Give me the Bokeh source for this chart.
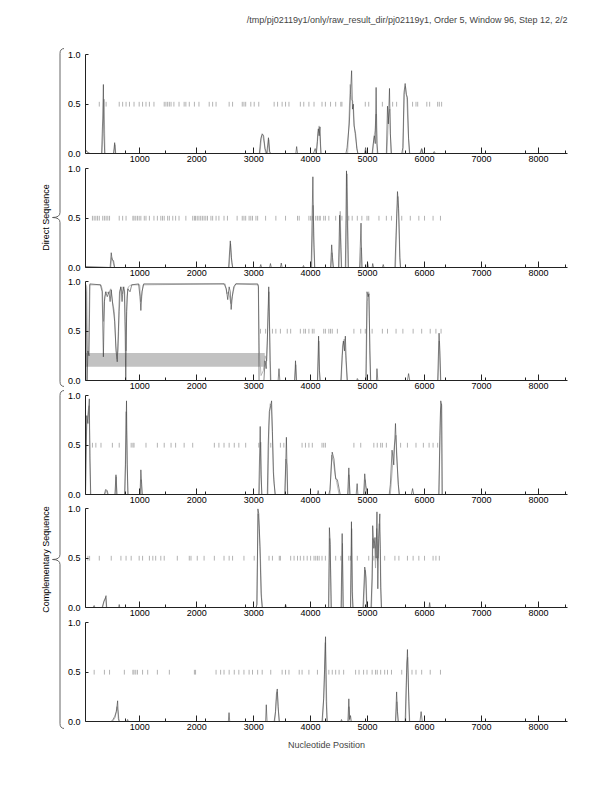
from bokeh.plotting import figure
from bokeh.models import Range1d, FixedTicker, NumeralTickFormatter
from bokeh.layouts import row, column
from bokeh.embed import file_html
from bokeh.resources import INLINE
from bokeh.core.properties import value

TITLE = "/tmp/pj02119y1/only/raw_result_dir/pj02119y1, Order 5, Window 96, Step 12, 2/2"
X_LABEL = "Nucleotide Position"
GROUP_LABELS = ["Direct Sequence", "Complementary Sequence"]
X_TICKS = [1000, 2000, 3000, 4000, 5000, 6000, 7000, 8000]
X_MINOR = [750, 1455, 2160, 2860, 3560, 4265, 4965, 5670, 6370, 7075, 7780, 8480]
Y_TICKS = [0.0, 0.5, 1.0]
X_START, X_END = 48, 8510
GENE_BOX = (48, 3195)          # predicted gene in panel 3
GENE_BOX_Y = (0.14, 0.28)

P1_BLACK = [(48,.04),(90,.01),(130,0),(330,0),(350,.35),(362,.70),(372,.2),(385,0),(540,0),(560,.11),(575,0),(3100,0),(3125,.15),(3150,.2),(3175,.18),(3200,.05),(3230,0),(3260,.16),(3280,.02),(3300,0),(3740,0),(3755,.07),(3770,0),(4050,0),(4080,.05),(4100,0),(4120,.12),(4135,.25),(4150,.18),(4165,.27),(4180,0),(4620,0),(4640,.06),(4680,.3),(4700,.6),(4720,.84),(4735,.45),(4750,.5),(4765,.28),(4790,.2),(4810,.05),(4830,0),(4950,0),(4965,.06),(4980,0),(5080,0),(5100,.1),(5120,.18),(5135,.1),(5150,.67),(5165,.1),(5180,0),(5330,0),(5350,.48),(5365,.3),(5385,.66),(5400,.2),(5420,0),(5600,0),(5620,.06),(5640,.62),(5660,.71),(5680,.6),(5700,.57),(5720,.15),(5740,0),(5920,0),(5950,.05),(5970,0),(6150,0),(6170,.02),(6190,0),(6310,0)]
P1_GRAY = [(48,.03),(100,0),(340,0),(360,.3),(375,.55),(390,0),(545,0),(565,.09),(580,0),(3110,0),(3140,.18),(3160,.19),(3185,.1),(3210,0),(3245,0),(3265,.14),(3285,0),(4100,0),(4125,.2),(4150,.28),(4170,.1),(4185,0),(4650,0),(4680,.45),(4695,.7),(4715,.55),(4740,.53),(4760,.3),(4780,.2),(4800,.12),(4830,0),(5090,0),(5110,.16),(5130,.23),(5150,.4),(5170,0),(5340,0),(5365,.34),(5390,.45),(5410,0),(5620,0),(5645,.6),(5665,.68),(5690,.55),(5715,.2),(5735,0),(5935,0),(5955,.04),(5975,0),(6310,0)]
P1_STOPS = [290,410,640,700,760,820,900,990,1050,1110,1170,1250,1430,1460,1490,1520,1550,1600,1690,1780,1810,1870,1960,2040,2220,2280,2340,2570,2630,2800,2830,2860,2950,3010,3090,3360,3420,3500,3560,3620,3820,3880,3970,4060,4200,4260,4350,4440,4530,4550,4960,5020,5260,5440,5510,5790,5850,5880,6040,6090,6230,6260,6300]

P2_BLACK = [(48,.01),(480,0),(500,.15),(515,.08),(540,.07),(560,0),(2560,0),(2590,.27),(2610,.1),(2630,0),(3110,0),(3125,.03),(3140,0),(3280,0),(3295,.04),(3310,0),(3470,0),(3485,.045),(3500,0),(3860,0),(3875,.02),(3890,0),(4010,0),(4040,.92),(4055,.3),(4070,0),(4350,0),(4370,.23),(4385,.1),(4400,0),(4490,0),(4510,.53),(4525,.3),(4540,0),(4610,0),(4630,.98),(4645,.5),(4660,0),(4860,0),(4885,.45),(4900,0),(4990,0),(5000,.05),(5015,0),(5080,0),(5090,.04),(5105,0),(5260,0),(5275,.03),(5290,0),(5480,0),(5510,.5),(5525,.77),(5545,.6),(5565,.1),(5580,0),(6310,0)]
P2_GRAY = [(48,0),(490,0),(510,.1),(530,.06),(555,0),(2570,0),(2595,.24),(2615,.05),(2635,0),(4020,0),(4045,.63),(4060,.2),(4075,0),(4360,0),(4375,.15),(4395,0),(4500,0),(4520,.57),(4535,.2),(4545,0),(4620,0),(4640,.95),(4655,.4),(4665,0),(4870,0),(4890,.2),(4905,0),(5490,0),(5515,.55),(5535,.72),(5555,.4),(5575,0),(6310,0)]
P2_STOPS = [170,200,230,260,290,350,380,410,440,470,640,700,760,880,900,930,960,990,1020,1080,1110,1170,1250,1310,1370,1400,1430,1490,1520,1580,1630,1690,1810,1930,1960,1980,2010,2040,2070,2100,2130,2160,2190,2250,2280,2340,2390,2480,2540,2710,2800,2830,2860,2920,2950,2980,3040,3070,3210,3390,3560,3770,3800,3970,4000,4030,4090,4120,4150,4170,4230,4260,4320,4440,4550,4670,4730,4820,4900,4990,5020,5200,5330,5420,5600,5750,5900,6000,6150,6280]

P3_BLACK = [(48,.97),(60,.9),(75,0),(90,.3),(110,.25),(125,.98),(310,.97),(340,.9),(362,.24),(380,.8),(400,.9),(430,.85),(460,.9),(480,.8),(500,.92),(530,.75),(560,.6),(585,.3),(605,.19),(625,.5),(645,.9),(670,.95),(690,.8),(710,.95),(735,.9),(755,0),(770,.7),(790,.93),(830,.9),(860,.97),(980,.98),(1005,.85),(1020,.71),(1040,.9),(1070,.98),(2480,.98),(2520,.93),(2545,.82),(2570,.95),(2590,.9),(2605,.72),(2625,.85),(2650,.95),(2690,.98),(3070,.98),(3085,.95),(3095,0),(3180,0),(3200,.2),(3220,.12),(3240,.4),(3265,.95),(3280,.5),(3295,0),(3430,0),(3445,.12),(3460,0),(3720,0),(3735,.2),(3750,0),(4120,0),(4140,.45),(4155,.1),(4170,0),(4530,0),(4555,.25),(4575,.4),(4595,.3),(4610,.45),(4625,.2),(4645,0),(4810,0),(4820,.02),(4840,0),(4970,0),(4990,.9),(5010,.85),(5025,.88),(5040,.3),(5055,0),(5155,0),(5165,.12),(5180,0),(5700,0),(5720,.07),(5740,0),(6230,0),(6255,.48),(6270,.3),(6285,0),(6310,0)]
P3_GRAY = [(48,.98),(70,.95),(85,.25),(100,.28),(120,.97),(320,.97),(345,.92),(365,.6),(385,.85),(420,.9),(450,.88),(490,.93),(520,.8),(555,.7),(580,.35),(600,.22),(620,.3),(640,.7),(665,.95),(700,.88),(725,.95),(745,.6),(760,.3),(775,.85),(800,.95),(850,.97),(1000,.97),(1015,.8),(1030,.85),(1060,.97),(2500,.98),(2530,.88),(2560,.9),(2600,.78),(2640,.9),(2680,.98),(3080,.97),(3100,.3),(3130,.05),(3170,.1),(3200,.25),(3230,.2),(3255,.7),(3270,.9),(3290,.2),(3305,0),(3720,0),(3740,.16),(3755,0),(4125,0),(4145,.4),(4160,0),(4540,0),(4560,.35),(4590,.42),(4615,.25),(4640,0),(4975,0),(4995,.8),(5020,.9),(5035,.5),(5050,0),(6240,0),(6258,.4),(6280,0),(6310,0)]
P3_STOPS = [3120,3210,3330,3390,3470,3590,3650,3820,3880,3910,3970,4030,4060,4230,4260,4320,4350,4380,4470,4760,4880,4960,5080,5260,5350,5500,5620,5800,5950,6100,6200,6290]

P4_BLACK = [(48,0),(55,.3),(70,.8),(90,.72),(115,.97),(125,.36),(140,0),(380,0),(400,.05),(430,.04),(445,0),(565,0),(583,.2),(598,0),(735,0),(750,.3),(768,.95),(780,.3),(795,0),(1005,0),(1020,.25),(1035,.1),(1045,0),(3090,0),(3115,.69),(3130,.2),(3145,0),(3240,0),(3255,.5),(3275,.84),(3300,.9),(3315,.95),(3330,.64),(3345,.23),(3360,.11),(3380,0),(3550,0),(3575,.58),(3595,0),(4120,0),(4133,.04),(4145,0),(4320,0),(4340,.05),(4379,.43),(4410,.36),(4440,.16),(4470,.15),(4500,.06),(4520,0),(4650,0),(4671,.27),(4690,0),(4800,0),(4817,.11),(4830,0),(4930,0),(4950,.21),(4970,.09),(5000,0),(5380,0),(5400,.1),(5430,.45),(5460,.3),(5490,.72),(5510,.4),(5540,.1),(5560,0),(5770,0),(5790,.06),(5810,0),(6250,0),(6270,.6),(6285,.95),(6300,.9),(6310,0)]
P4_GRAY = [(48,0),(60,.5),(75,.75),(95,.85),(110,.9),(125,.5),(135,0),(385,0),(410,.04),(440,0),(570,0),(588,.18),(600,0),(740,0),(760,.84),(775,.5),(790,0),(1010,0),(1025,.15),(1040,0),(3100,0),(3125,.53),(3140,0),(3250,0),(3270,.7),(3290,.92),(3310,.9),(3335,.5),(3355,.15),(3375,0),(3545,0),(3565,.36),(3585,.3),(3600,0),(4340,0),(4370,.4),(4400,.33),(4430,.2),(4460,.12),(4500,0),(4660,0),(4675,.2),(4690,0),(4940,0),(4955,.15),(4975,0),(5400,0),(5440,.3),(5470,.5),(5500,.6),(5530,.2),(5550,0),(6255,0),(6280,.85),(6300,.92),(6310,0)]
P4_STOPS = [170,230,320,520,640,850,880,900,1110,1310,1430,1550,1630,1780,1930,2310,2390,2480,2570,2660,2740,2860,3090,3300,3470,3530,3850,3910,3970,4030,4200,4230,4260,4760,4880,5110,5170,5230,5260,5330,5580,5700,5850,5980,6080,6150,6230]

P5_BLACK = [(48,0),(180,0),(200,.02),(215,0),(340,0),(370,.06),(395,.09),(408,.12),(420,0),(630,0),(640,.03),(650,0),(3040,0),(3060,.03),(3075,1.0),(3090,.95),(3110,.62),(3130,.14),(3150,0),(3550,0),(3561,.03),(3575,0),(4315,0),(4330,.81),(4345,.64),(4360,0),(4535,0),(4554,.75),(4570,0),(4700,0),(4717,.87),(4730,.16),(4745,0),(4920,0),(4950,.41),(4965,.36),(4985,0),(5060,0),(5080,.3),(5090,.83),(5110,.6),(5130,.71),(5150,.5),(5165,.97),(5180,.19),(5195,.7),(5215,.95),(5230,.2),(5245,0),(6080,0),(6090,.05),(6100,0),(6310,0)]
P5_GRAY = [(48,0),(350,0),(380,.08),(400,.1),(415,0),(3050,0),(3080,.95),(3100,.8),(3120,.5),(3140,.1),(3155,0),(4320,0),(4335,.7),(4350,.4),(4365,0),(4540,0),(4560,.65),(4575,0),(4705,0),(4722,.8),(4740,0),(4930,0),(4955,.38),(4975,.3),(4990,0),(5070,0),(5095,.7),(5120,.65),(5140,.4),(5160,.8),(5185,.5),(5205,.85),(5225,.6),(5240,0),(6310,0)]
P5_STOPS = [90,120,290,500,670,760,850,990,1050,1170,1230,1280,1370,1430,1660,1870,1900,2010,2130,2310,2480,2570,2630,2830,3010,3270,3330,3450,3470,3650,3710,3770,3820,3880,3940,4000,4060,4090,4120,4150,4200,4260,4440,4530,4670,4700,4820,5020,5110,5170,5300,5480,5550,5700,5800,5900,6000,6150,6200,6260]

P6_BLACK = [(48,0),(500,0),(530,.02),(560,.05),(590,.1),(612,.21),(625,.03),(640,0),(770,0),(787,.02),(800,0),(2555,0),(2568,.09),(2580,0),(3210,0),(3222,.17),(3235,0),(3360,0),(3385,.1),(3400,.28),(3415,.33),(3430,.15),(3450,0),(4200,0),(4230,.23),(4245,.53),(4262,.86),(4275,.2),(4290,0),(4530,0),(4542,.02),(4555,0),(4655,0),(4671,.23),(4685,.02),(4700,.06),(4715,0),(5490,0),(5510,.3),(5525,.1),(5540,0),(5660,0),(5685,.5),(5700,.73),(5715,.4),(5735,0),(5920,0),(5940,.1),(5960,0),(6310,0)]
P6_GRAY = [(48,0),(520,0),(570,.04),(600,.15),(620,.1),(640,0),(3370,0),(3395,.2),(3415,.3),(3435,.1),(3450,0),(4210,0),(4240,.4),(4258,.8),(4272,.5),(4290,0),(4660,0),(4676,.15),(4690,0),(5495,0),(5515,.2),(5535,0),(5670,0),(5690,.6),(5705,.65),(5725,.2),(5740,0),(6310,0)]
P6_STOPS = [200,380,470,730,880,900,930,960,1050,1140,1310,1520,1960,1980,2340,2420,2480,2570,2660,2740,2830,2920,2980,3070,3150,3300,3500,3560,3620,3800,3850,3970,4120,4320,4380,4440,4500,4580,4790,4850,4930,4990,5080,5140,5170,5230,5300,5350,5420,5600,5780,5850,5950,6100,6280]

PANELS = [
    (P1_BLACK, P1_GRAY, P1_STOPS),
    (P2_BLACK, P2_GRAY, P2_STOPS),
    (P3_BLACK, P3_GRAY, P3_STOPS),
    (P4_BLACK, P4_GRAY, P4_STOPS),
    (P5_BLACK, P5_GRAY, P5_STOPS),
    (P6_BLACK, P6_GRAY, P6_STOPS),
]

# ---------------- layout geometry (page pixels, layout origin at 0,0) ----------------
FONT = "Liberation Sans"
FS = "9px"
PX_PER_UNIT = 98.6
LEFT_W = 64
RIGHT_W = 540
FIG_TOP = [51, 164, 278, 391, 505, 618]
AXIS_Y = [153, 267, 380, 494, 607, 721]
PAGE_BOTTOM = 770
FIG_BOTTOM = FIG_TOP[1:] + [PAGE_BOTTOM]
BORDER_L = 21
BORDER_R = 37

BLACK_C = "#3a3a3a"
GRAY_C = "#a8a8a8"
STOP_C = "#a0a0a0"


def make_panel(k):
    black, gray, stops = PANELS[k]
    h = FIG_BOTTOM[k] - FIG_TOP[k]
    frame_h = AXIS_Y[k] - FIG_TOP[k]
    p = figure(width=RIGHT_W, height=h, output_backend="svg", toolbar_location=None,
               x_range=Range1d(X_START, X_END), y_range=Range1d(0, frame_h / PX_PER_UNIT))
    p.min_border_top = 0
    p.min_border_bottom = FIG_BOTTOM[k] - AXIS_Y[k]
    p.min_border_left = BORDER_L
    p.min_border_right = BORDER_R
    p.outline_line_color = None
    p.grid.visible = False
    p.background_fill_alpha = 0
    p.border_fill_alpha = 0

    xa = p.xaxis[0]
    xa.ticker = FixedTicker(ticks=X_TICKS, minor_ticks=X_MINOR)
    xa.major_tick_in = 6
    xa.major_tick_out = 0
    xa.minor_tick_in = 3
    xa.minor_tick_out = 0
    xa.major_label_standoff = 2
    xa.major_label_text_font = FONT
    xa.major_label_text_font_size = FS
    xa.major_label_text_color = "black"
    xa.axis_line_color = "#222222"
    xa.major_tick_line_color = "#222222"
    xa.minor_tick_line_color = "#222222"

    ya = p.yaxis[0]
    ya.ticker = FixedTicker(ticks=Y_TICKS, minor_ticks=[])
    ya.formatter = NumeralTickFormatter(format="0.0")
    ya.bounds = (0, 1)
    ya.major_tick_in = 3
    ya.major_tick_out = 0
    ya.minor_tick_in = 0
    ya.minor_tick_out = 0
    ya.major_label_standoff = 5
    ya.major_label_text_font = FONT
    ya.major_label_text_font_size = FS
    ya.major_label_text_color = "black"
    ya.axis_line_color = "#222222"
    ya.major_tick_line_color = "#222222"

    if k == 2:
        p.quad(left=GENE_BOX[0], right=GENE_BOX[1], bottom=GENE_BOX_Y[0], top=GENE_BOX_Y[1],
               fill_color="#c2c2c2", line_color=None)

    p.segment(x0=stops, x1=stops, y0=[0.476] * len(stops), y1=[0.524] * len(stops),
              line_color=STOP_C, line_width=0.8)
    p.line([a for a, b in gray], [b for a, b in gray], line_color=GRAY_C, line_width=0.8)
    p.line([a for a, b in black], [b for a, b in black], line_color=BLACK_C, line_width=0.6)

    if k == 5:
        xa.axis_label = X_LABEL
        xa.axis_label_text_font = FONT
        xa.axis_label_text_font_size = FS
        xa.axis_label_text_font_style = "normal"
        xa.axis_label_standoff = 7
    return p


panels = [make_panel(k) for k in range(6)]

# header with the title
header = figure(width=RIGHT_W, height=FIG_TOP[0], output_backend="svg", toolbar_location=None,
                x_axis_location=None, y_axis_location=None,
                x_range=Range1d(0, 1), y_range=Range1d(0, 1))
header.title.text = TITLE
header.title.align = "right"
header.title.text_font = FONT
header.title.text_font_size = FS
header.title.text_font_style = "normal"
header.title.standoff = 0
header.min_border_top = 24
header.min_border_bottom = 0
header.min_border_left = BORDER_L
header.min_border_right = BORDER_R
header.outline_line_color = None
header.grid.visible = False

# left strip with the braces and group labels (page-pixel coordinates)
left = figure(width=LEFT_W, height=PAGE_BOTTOM, output_backend="svg", toolbar_location=None,
              x_axis_location=None, y_axis_location=None,
              x_range=Range1d(0, LEFT_W), y_range=Range1d(PAGE_BOTTOM, 0))
left.min_border = 0
left.outline_line_color = None
left.grid.visible = False

XE, XA, XT, R = 64, 59.5, 52, 5
BRACES = [(FIG_TOP[0] - 3, AXIS_Y[2] + 6), (FIG_TOP[3] - 1, AXIS_Y[5] + 7)]
for (top, bot), label in zip(BRACES, GROUP_LABELS):
    mid = (top + bot) / 2
    left.quadratic(x0=[XE, XA, XT, XA], y0=[top, mid - R, mid, bot - R],
                   x1=[XA, XT, XA, XE], y1=[top + R, mid, mid + R, bot],
                   cx=[XA, XA, XA, XA], cy=[top, mid, mid, bot],
                   line_color="#555555", line_width=0.9)
    left.segment(x0=[XA, XA], y0=[top + R, mid + R], x1=[XA, XA], y1=[mid - R, bot - R],
                 line_color="#555555", line_width=0.9)
    left.text(x=[45], y=[mid], text=[label], angle=1.5707963, text_align="center",
              text_baseline="middle", text_font=value(FONT), text_font_size=FS, text_color="black")

layout = row(left, column(header, *panels))
open("out.html", "w").write(file_html(layout, INLINE))
